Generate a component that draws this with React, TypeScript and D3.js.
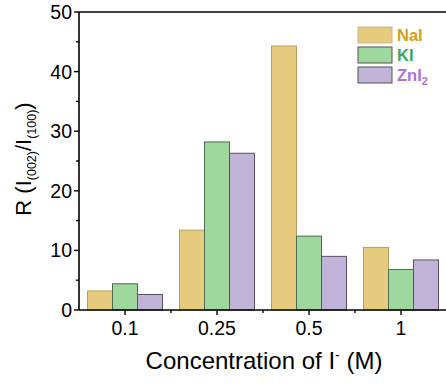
import React, { useEffect, useRef } from 'react'
import * as d3 from 'd3'

const concentrations = ['0.1', '0.25', '0.5', '1']
const seriesNames = ['NaI', 'KI', 'ZnI2']
const naI = [3.2, 13.4, 44.3, 10.5]
const kI = [4.4, 28.2, 12.4, 6.8]
const znI2 = [2.6, 26.3, 9.0, 8.4]
const yTicks = [0, 10, 20, 30, 40, 50]

const fills = ['#e6cb7e', '#9fd89c', '#c2b3d9']
const strokes = ['#b8a060', '#4f6a50', '#5a5068']
const textColors = ['#d4a017', '#3aa860', '#b070d8']

export default function App() {
    const svgRef = useRef<SVGSVGElement>(null)
    const width = 446
    const height = 387

    useEffect(() => {
        if (!svgRef.current) return
        const svg = d3.select(svgRef.current)
        svg.selectAll('*').remove()

        const margin = { top: 12, left: 79, bottom: 77 }
        const innerH = height - margin.top - margin.bottom
        const font = 'Arial, "Liberation Sans", sans-serif'

        const x = d3.scaleBand().domain(concentrations).range([margin.left, margin.left + 368])
        const y = d3.scaleLinear().domain([0, 50]).range([margin.top + innerH, margin.top])
        const inner = d3.scaleBand().domain(seriesNames).range([0, 75])

        const values = [naI, kI, znI2]

        // bars
        seriesNames.forEach((s, si) => {
            svg.append('g').selectAll('rect')
                .data(values[si])
                .enter().append('rect')
                .attr('x', (_, i) => (x(concentrations[i]) || 0) + (x.bandwidth() - 75) / 2 + (inner(s) || 0))
                .attr('y', d => y(d))
                .attr('width', inner.bandwidth())
                .attr('height', d => y(0) - y(d))
                .attr('fill', fills[si])
                .attr('stroke', strokes[si])
                .attr('stroke-width', 1)
        })

        // top frame line
        svg.append('line')
            .attr('x1', margin.left).attr('x2', width)
            .attr('y1', y(50)).attr('y2', y(50))
            .attr('stroke', '#000').attr('stroke-width', 1.6)

        // y axis
        const yAxis = svg.append('g').attr('transform', `translate(${margin.left},0)`)
        yAxis.append('line').attr('y1', y(0)).attr('y2', y(50)).attr('stroke', '#000').attr('stroke-width', 1.6)
        d3.range(0, 51, 5).forEach(v => {
            const major = v % 10 === 0
            yAxis.append('line')
                .attr('x1', major ? -5 : -3).attr('x2', 0)
                .attr('y1', y(v)).attr('y2', y(v))
                .attr('stroke', '#000').attr('stroke-width', 1.4)
        })
        yAxis.selectAll('text.tick').data(yTicks).enter().append('text')
            .attr('x', -7).attr('y', d => y(d))
            .attr('dy', '0.36em')
            .attr('text-anchor', 'end')
            .attr('font-family', font).attr('font-size', 19.5)
            .text(d => d)

        // x axis
        const xAxis = svg.append('g')
        xAxis.append('line').attr('x1', margin.left).attr('x2', width)
            .attr('y1', y(0)).attr('y2', y(0)).attr('stroke', '#000').attr('stroke-width', 1.6)
        concentrations.forEach((c, i) => {
            const cx = (x(c) || 0) + x.bandwidth() / 2
            xAxis.append('line').attr('x1', cx).attr('x2', cx)
                .attr('y1', y(0)).attr('y2', y(0) + 5).attr('stroke', '#000').attr('stroke-width', 1.4)
            if (i > 0) {
                const mx = x(c) || 0
                xAxis.append('line').attr('x1', mx).attr('x2', mx)
                    .attr('y1', y(0)).attr('y2', y(0) + 3).attr('stroke', '#000').attr('stroke-width', 1.4)
            }
            xAxis.append('text')
                .attr('x', cx).attr('y', y(0) + 25)
                .attr('text-anchor', 'middle')
                .attr('font-family', font).attr('font-size', 19.5)
                .text(c)
        })

        // x label
        const xl = svg.append('text')
            .attr('x', 264).attr('y', 369)
            .attr('text-anchor', 'middle')
            .attr('font-family', font).attr('font-size', 24)
        xl.append('tspan').text('Concentration of I')
        xl.append('tspan').attr('dy', -9).attr('font-size', 14).text('-')
        xl.append('tspan').attr('dy', 9).text(' (M)')

        // y label
        const yl = svg.append('text')
            .attr('transform', `translate(31,159) rotate(-90)`)
            .attr('text-anchor', 'middle')
            .attr('font-family', font).attr('font-size', 22)
        yl.append('tspan').text('R (I')
        yl.append('tspan').attr('dy', 5).attr('font-size', 12.5).text('(002)')
        yl.append('tspan').attr('dy', -5).text('/I')
        yl.append('tspan').attr('dy', 5).attr('font-size', 12.5).text('(100)')
        yl.append('tspan').attr('dy', -5).text(')')

        // legend
        const lg = svg.append('g').attr('transform', 'translate(358,27)')
        seriesNames.forEach((s, i) => {
            const row = lg.append('g').attr('transform', `translate(0,${i * 20})`)
            row.append('rect').attr('width', 34).attr('height', 16)
                .attr('fill', fills[i]).attr('stroke', i === 0 ? '#c8b888' : '#555').attr('stroke-width', 1)
            const t = row.append('text').attr('x', 39).attr('y', 14)
                .attr('font-family', font).attr('font-size', 16.5).attr('font-weight', 'bold')
                .attr('fill', textColors[i])
            if (s === 'ZnI2') {
                t.append('tspan').text('ZnI')
                t.append('tspan').attr('dy', 4).attr('font-size', 11).text('2')
            } else {
                t.text(s)
            }
        })
    }, [])

    return (
        <svg ref={svgRef} width={width} height={height} viewBox={`0 0 ${width} ${height}`}
            style={{ position: 'absolute', left: 0, top: 0, background: '#fff' }} />
    )
}
